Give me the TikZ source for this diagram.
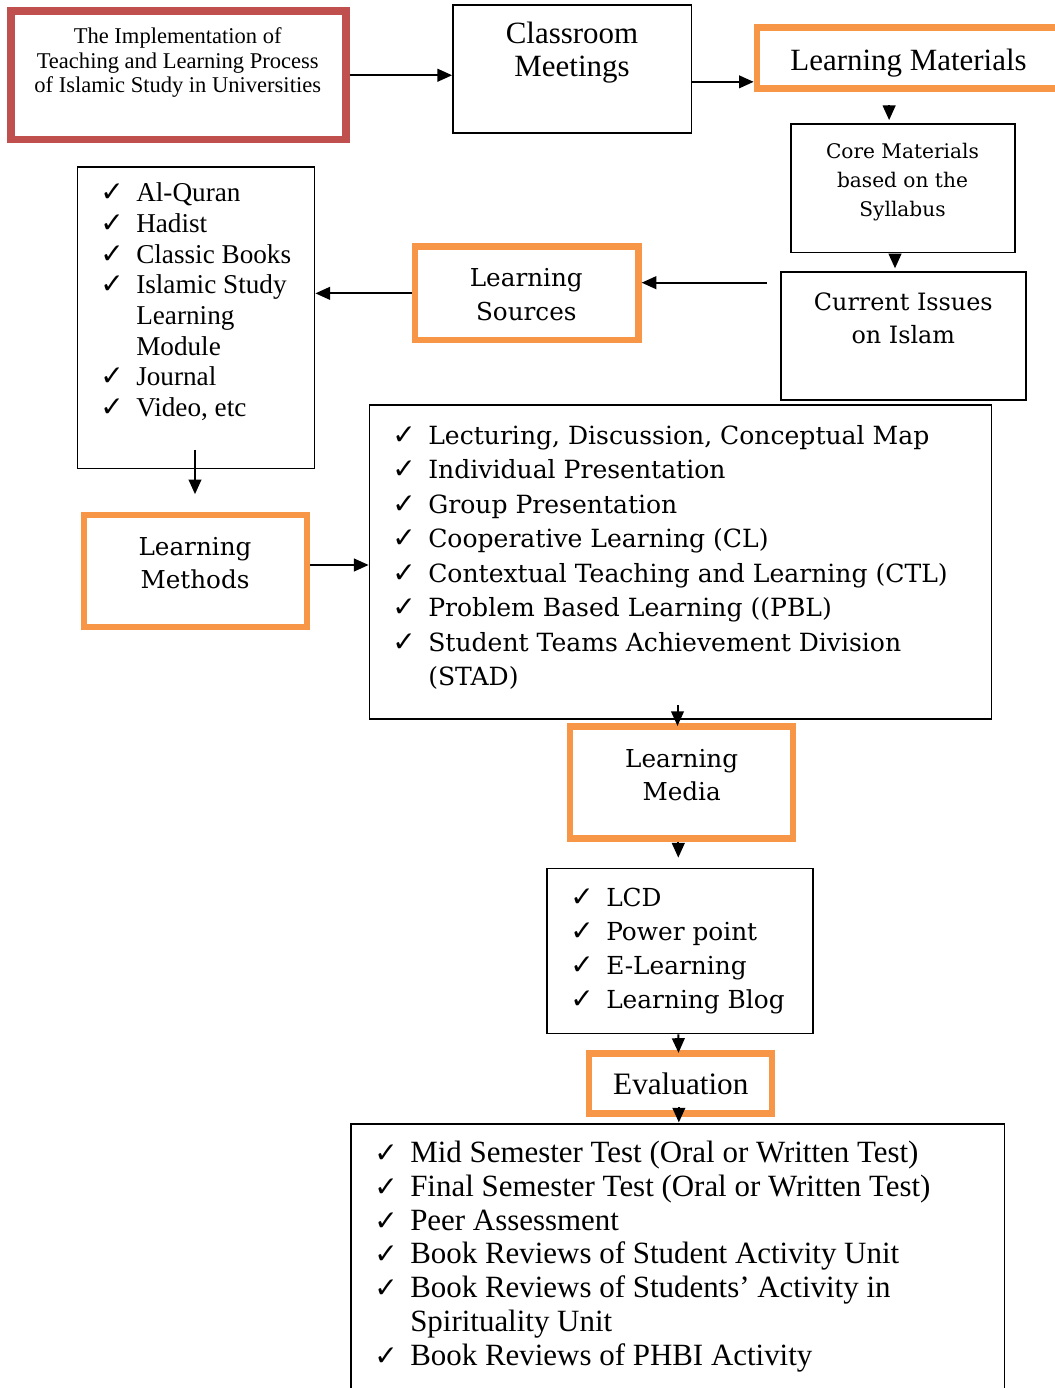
\documentclass[tikz,border=0pt]{standalone}
\usepackage{fontspec}
\usetikzlibrary{arrows.meta,calc,fit}
\newfontfamily\tms{Liberation Serif}
\newfontfamily\dvs{DejaVu Serif}
\newfontfamily\ckfont{DejaVu Sans}
\definecolor{orng}{HTML}{F79646}
\definecolor{rd}{HTML}{C0504D}
\newcommand\chk{\makebox[27pt][l]{\ckfont\fontsize{21}{21}\selectfont ✓}}
\newcommand\ind{\hspace*{27pt}}
\begin{document}
\begin{tikzpicture}[x=0.75pt,y=-0.75pt,
  bbox/.style={draw=black, line width=1.3pt, inner sep=0pt},
  obox/.style={draw=orng, line width=5pt, inner sep=0pt},
  rbox/.style={draw=rd, line width=5.5pt, inner sep=0pt},
  txt/.style={anchor=base, inner sep=0pt},
  ltxt/.style={anchor=base west, inner sep=0pt},
  arr/.style={line width=1.5pt, -{Triangle[length=11pt,width=9.5pt]}}]
\fill[white] (0,0) rectangle (1055,1388);
\useasboundingbox (0,0) rectangle (1055,1388);

% boxes
\node[rbox, fit={(11,11) (346,139.5)}] (red) {};
\node[bbox, fit={(453,5) (691.5,133.3)}] (cm) {};
\node[obox, fit={(757,27.5) (1065,88.3)}] (lm) {};
\node[bbox, fit={(791,124) (1015,252.5)}] (core) {};
\node[bbox, fit={(781,272) (1026,400)}] (ci) {};
\node[obox, fit={(415,246.7) (638.3,340)}] (ls) {};
\node[bbox, fit={(77.5,167) (314.5,468.5)}] (src) {};
\node[obox, fit={(84,515) (307,627)}] (lmeth) {};
\node[bbox, fit={(369.5,405) (991.5,719.3)}] (meth) {};
\node[obox, fit={(570,726.7) (793,838.7)}] (lmed) {};
\node[bbox, fit={(547.3,868.5) (813.3,1033.5)}] (lcd) {};
\node[obox, fit={(589,1053.7) (772,1113.7)}] (ev) {};
\node[bbox, fit={(351.2,1124.3) (1004.5,1400)}] (evl) {};

% texts
\node[txt, font=\tms\fontsize{16.9}{18.2}\selectfont] (tred) at (177.7,44)
  {\begin{tabular}[t]{@{}c@{}}The Implementation of\\Teaching and Learning Process\\of Islamic Study in Universities\end{tabular}};
\node[txt, font=\tms\fontsize{23.2}{24.75}\selectfont] (tcm) at (572,44)
  {\begin{tabular}[t]{@{}c@{}}Classroom\\Meetings\end{tabular}};
\node[txt, font=\tms\fontsize{23.2}{24.75}\selectfont] (tlm) at (908.5,70) {Learning Materials};
\node[txt, font=\dvs\fontsize{15.1}{21.9}\selectfont] (tcore) at (902.5,158.3)
  {\begin{tabular}[t]{@{}c@{}}Core Materials\\based on the\\Syllabus\end{tabular}};
\node[txt, font=\dvs\fontsize{17.9}{25}\selectfont] (tci) at (903.3,310)
  {\begin{tabular}[t]{@{}c@{}}Current Issues\\on Islam\end{tabular}};
\node[txt, font=\dvs\fontsize{18.5}{26}\selectfont] (tls) at (526.3,286)
  {\begin{tabular}[t]{@{}c@{}}Learning\\Sources\end{tabular}};
\node[ltxt, font=\tms\fontsize{20.4}{23}\selectfont] (tsrc) at (100,201.7)
  {\begin{tabular}[t]{@{}l@{}}\chk Al-Quran\\\chk Hadist\\\chk Classic Books\\\chk Islamic Study\\\ind Learning\\\ind Module\\\chk Journal\\\chk Video, etc\end{tabular}};
\node[txt, font=\dvs\fontsize{18.5}{25}\selectfont] (tlmeth) at (195,555)
  {\begin{tabular}[t]{@{}c@{}}Learning\\Methods\end{tabular}};
\node[ltxt, font=\dvs\fontsize{18.8}{25.9}\selectfont] (tmeth) at (392,444)
  {\begin{tabular}[t]{@{}l@{}}\chk Lecturing, Discussion, Conceptual Map\\\chk Individual Presentation\\\chk Group Presentation\\\chk Cooperative Learning (CL)\\\chk Contextual Teaching and Learning (CTL)\\\chk Problem Based Learning ((PBL)\\\chk Student Teams Achievement Division\\\ind (STAD)\end{tabular}};
\node[txt, font=\dvs\fontsize{18.5}{25}\selectfont] (tlmed) at (681.7,767.3)
  {\begin{tabular}[t]{@{}c@{}}Learning\\Media\end{tabular}};
\node[ltxt, font=\dvs\fontsize{18.6}{25.5}\selectfont] (tlcd) at (570,906)
  {\begin{tabular}[t]{@{}l@{}}\chk LCD\\\chk Power point\\\chk E-Learning\\\chk Learning Blog\end{tabular}};
\node[txt, font=\tms\fontsize{23.4}{25}\selectfont] (tev) at (680.8,1094) {Evaluation};
\node[ltxt, font=\tms\fontsize{23.2}{25.3}\selectfont] (tevl) at (374,1162.7)
  {\begin{tabular}[t]{@{}l@{}}\chk Mid Semester Test (Oral or Written Test)\\\chk Final Semester Test (Oral or Written Test)\\\chk Peer Assessment\\\chk Book Reviews of Student Activity Unit\\\chk Book Reviews of Students’ Activity in\\\ind Spirituality Unit\\\chk Book Reviews of PHBI Activity\end{tabular}};

% connector anchor points
\coordinate (a2) at ($(cm.east)+(0,12.7)$);
\coordinate (a5) at ($(ci.west)+(-13,-53.3)$);
\coordinate (a8) at ($(lmeth.east)+(0,-6)$);

% connectors
\draw[arr] (red.east) -- (red.east -| cm.west);
\draw[arr] (a2) -- (a2 -| lm.west);
\draw[arr] ($(core.north west)+(99,-18)$) -- ($(core.north west)+(99,-3)$);
\draw[arr] ($(core.south)+(-8,1)$) -- ($(core.south)+(-8,15)$);
\draw[arr] (a5) -- (a5 -| ls.east);
\draw[arr] (ls.west) -- (ls.west -| src.east);
\draw[arr] ($(src.south)+(-1,-19)$) -- ($(lmeth.north)+(-0.5,-17.5)$);
\draw[arr] (a8) -- (a8 -| meth.west);
\draw[arr] ($(meth.south)+(-3,-15)$) -- ($(lmed.north)+(-4,2.6)$);
\draw[arr] ($(lcd.north)+(-2,-26)$) -- ($(lcd.north)+(-2,-10)$);
\draw[arr] ($(lcd.south)+(-2,0)$) -- ($(ev.north)+(-2,2.5)$);
\draw[arr] ($(evl.north)+(1,-16)$) -- ($(evl.north)+(1,-1)$);
\end{tikzpicture}
\end{document}
